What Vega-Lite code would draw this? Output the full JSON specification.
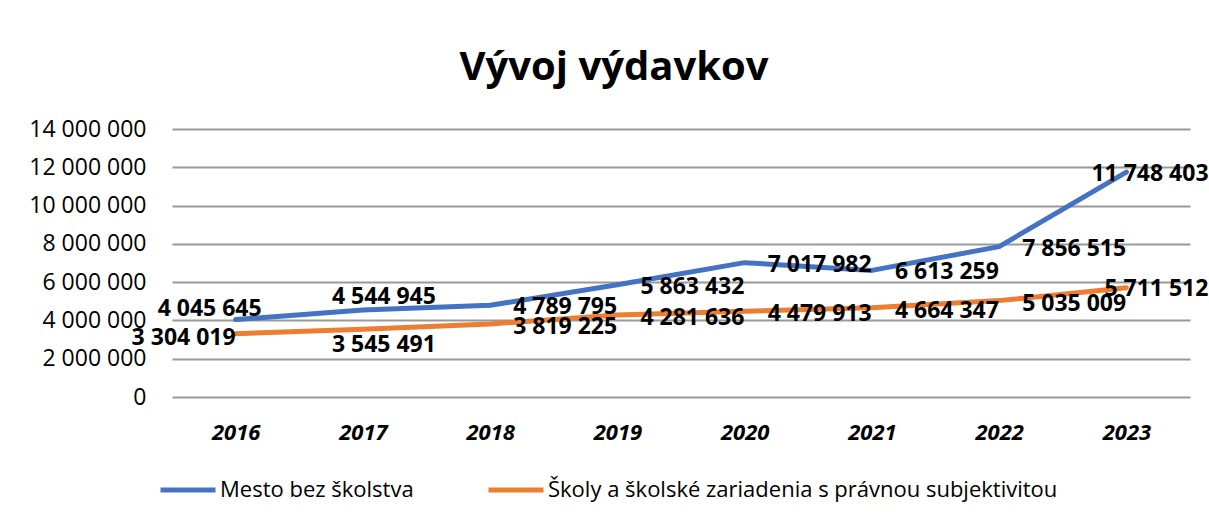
{
  "$schema": "https://vega.github.io/schema/vega-lite/v6.json",
  "width": 1018,
  "height": 268,
  "autosize": {"type": "none"},
  "padding": {"left": 172, "top": 129, "right": 19, "bottom": 124},
  "background": "white",
  "title": {
    "text": "Vývoj výdavkov",
    "font": "Open Sans",
    "fontSize": 40,
    "fontWeight": "bold",
    "color": "#000000",
    "anchor": "middle",
    "dx": -67,
    "offset": 30
  },
  "config": {
    "locale": {
      "number": {"decimal": ",", "thousands": " ", "grouping": [3], "currency": ["", " €"]}
    },
    "view": {"stroke": null},
    "font": "Open Sans"
  },
  "data": {
    "values": [
      {"year": 2016, "series": "Mesto bez školstva", "value": 4045645},
      {"year": 2017, "series": "Mesto bez školstva", "value": 4544945},
      {"year": 2018, "series": "Mesto bez školstva", "value": 4789795},
      {"year": 2019, "series": "Mesto bez školstva", "value": 5863432},
      {"year": 2020, "series": "Mesto bez školstva", "value": 7017982},
      {"year": 2021, "series": "Mesto bez školstva", "value": 6613259},
      {"year": 2022, "series": "Mesto bez školstva", "value": 7856515},
      {"year": 2023, "series": "Mesto bez školstva", "value": 11748403},
      {"year": 2016, "series": "Školy a školské zariadenia s právnou subjektivitou", "value": 3304019},
      {"year": 2017, "series": "Školy a školské zariadenia s právnou subjektivitou", "value": 3545491},
      {"year": 2018, "series": "Školy a školské zariadenia s právnou subjektivitou", "value": 3819225},
      {"year": 2019, "series": "Školy a školské zariadenia s právnou subjektivitou", "value": 4281636},
      {"year": 2020, "series": "Školy a školské zariadenia s právnou subjektivitou", "value": 4479913},
      {"year": 2021, "series": "Školy a školské zariadenia s právnou subjektivitou", "value": 4664347},
      {"year": 2022, "series": "Školy a školské zariadenia s právnou subjektivitou", "value": 5035009},
      {"year": 2023, "series": "Školy a školské zariadenia s právnou subjektivitou", "value": 5711512}
    ]
  },
  "encoding": {
    "x": {
      "field": "year",
      "type": "ordinal",
      "scale": {"type": "point", "padding": 0.5},
      "axis": {
        "title": null,
        "labelAngle": 0,
        "labelFont": "Open Sans",
        "labelFontSize": 22,
        "labelFontWeight": "bold",
        "labelFontStyle": "italic",
        "labelColor": "#000000",
        "labelPadding": 25,
        "ticks": false,
        "domain": false,
        "grid": false
      }
    },
    "y": {
      "field": "value",
      "type": "quantitative",
      "scale": {"domain": [0, 14000000], "nice": false, "zero": true},
      "axis": {
        "title": null,
        "values": [0, 2000000, 4000000, 6000000, 8000000, 10000000, 12000000, 14000000],
        "format": ",d",
        "labelFont": "Open Sans",
        "labelFontSize": 23,
        "labelColor": "#000000",
        "labelPadding": 26,
        "ticks": false,
        "tickSize": 0,
        "domain": false,
        "grid": true,
        "gridColor": "#999999",
        "gridWidth": 2
      }
    }
  },
  "layer": [
    {
      "mark": {"type": "line", "strokeWidth": 5, "strokeCap": "round", "strokeJoin": "round"},
      "encoding": {
        "color": {
          "field": "series",
          "type": "nominal",
          "scale": {
            "domain": ["Mesto bez školstva", "Školy a školské zariadenia s právnou subjektivitou"],
            "range": ["#4472C4", "#ED7D31"]
          },
          "legend": {
            "title": null,
            "orient": "none",
            "direction": "horizontal",
            "legendX": -14,
            "legendY": 331,
            "symbolType": "stroke",
            "symbolSize": 3025,
            "symbolStrokeWidth": 5,
            "labelFont": "Open Sans",
            "labelFontSize": 22,
            "labelColor": "#000000",
            "labelLimit": 0,
            "labelOffset": 2,
            "columnPadding": 64
          }
        }
      }
    },
    {
      "transform": [{"filter": "datum.series === 'Mesto bez školstva' && datum.year >= 2018 && datum.year <= 2022"}],
      "mark": {"type": "text", "align": "left", "baseline": "middle", "dx": 23, "dy": 2, "font": "Open Sans", "fontSize": 23, "fontWeight": "bold", "color": "#000000"},
      "encoding": {"text": {"field": "value", "type": "quantitative", "format": ",d"}}
    },
    {
      "transform": [{"filter": "datum.series === 'Mesto bez školstva' && datum.year === 2016"}],
      "mark": {"type": "text", "align": "center", "baseline": "middle", "dx": -26, "dy": -11, "font": "Open Sans", "fontSize": 23, "fontWeight": "bold", "color": "#000000"},
      "encoding": {"text": {"field": "value", "type": "quantitative", "format": ",d"}}
    },
    {
      "transform": [{"filter": "datum.series === 'Mesto bez školstva' && datum.year === 2017"}],
      "mark": {"type": "text", "align": "center", "baseline": "middle", "dx": 21, "dy": -13, "font": "Open Sans", "fontSize": 23, "fontWeight": "bold", "color": "#000000"},
      "encoding": {"text": {"field": "value", "type": "quantitative", "format": ",d"}}
    },
    {
      "transform": [{"filter": "datum.series === 'Mesto bez školstva' && datum.year === 2023"}],
      "mark": {"type": "text", "align": "left", "baseline": "middle", "dx": -35, "dy": 2, "font": "Open Sans", "fontSize": 23, "fontWeight": "bold", "color": "#000000"},
      "encoding": {"text": {"field": "value", "type": "quantitative", "format": ",d"}}
    },
    {
      "transform": [{"filter": "datum.series !== 'Mesto bez školstva' && datum.year >= 2018 && datum.year <= 2022"}],
      "mark": {"type": "text", "align": "left", "baseline": "middle", "dx": 23, "dy": 3, "font": "Open Sans", "fontSize": 23, "fontWeight": "bold", "color": "#000000"},
      "encoding": {"text": {"field": "value", "type": "quantitative", "format": ",d"}}
    },
    {
      "transform": [{"filter": "datum.series !== 'Mesto bez školstva' && datum.year === 2016"}],
      "mark": {"type": "text", "align": "right", "baseline": "middle", "dx": 0, "dy": 4, "font": "Open Sans", "fontSize": 23, "fontWeight": "bold", "color": "#000000"},
      "encoding": {"text": {"field": "value", "type": "quantitative", "format": ",d"}}
    },
    {
      "transform": [{"filter": "datum.series !== 'Mesto bez školstva' && datum.year === 2017"}],
      "mark": {"type": "text", "align": "center", "baseline": "middle", "dx": 21, "dy": 16, "font": "Open Sans", "fontSize": 23, "fontWeight": "bold", "color": "#000000"},
      "encoding": {"text": {"field": "value", "type": "quantitative", "format": ",d"}}
    },
    {
      "transform": [{"filter": "datum.series !== 'Mesto bez školstva' && datum.year === 2023"}],
      "mark": {"type": "text", "align": "left", "baseline": "middle", "dx": -22, "dy": 1, "font": "Open Sans", "fontSize": 23, "fontWeight": "bold", "color": "#000000"},
      "encoding": {"text": {"field": "value", "type": "quantitative", "format": ",d"}}
    }
  ]
}
